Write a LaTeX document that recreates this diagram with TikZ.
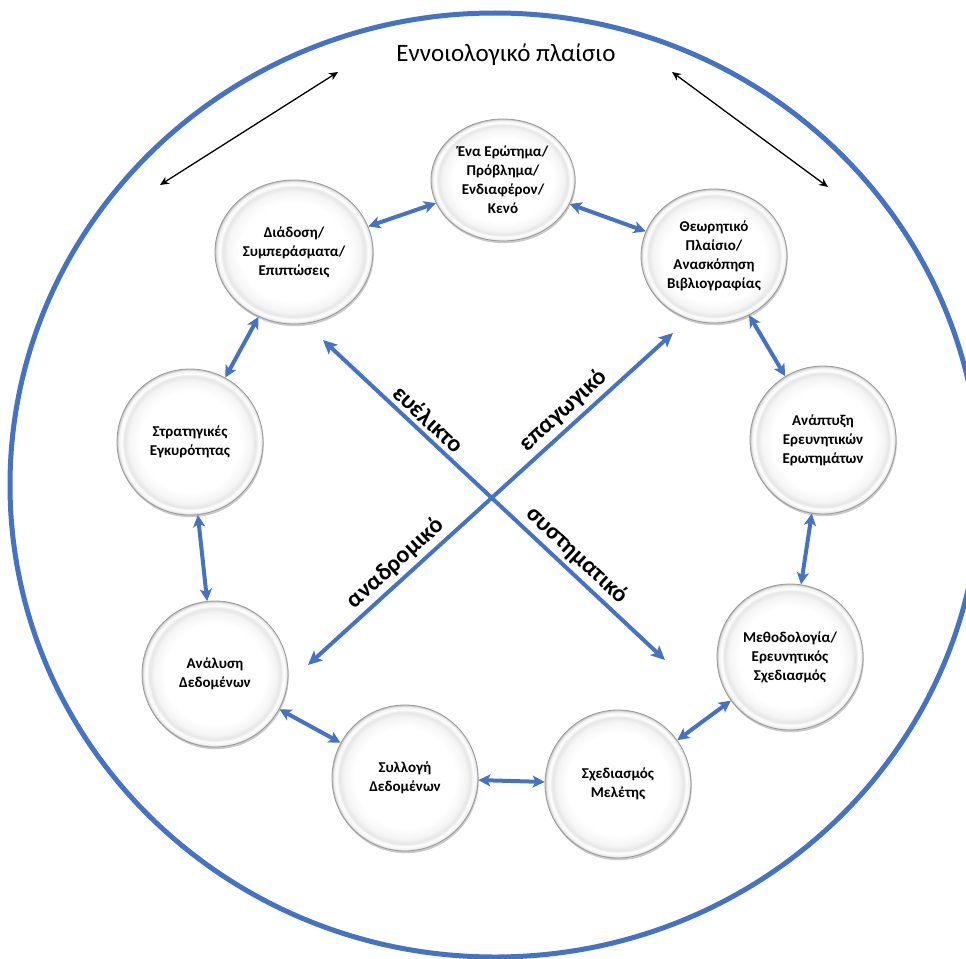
\documentclass[tikz,border=0pt]{standalone}
\usepackage{fontspec}
\setmainfont{Carlito}
\usetikzlibrary{arrows.meta,shapes.geometric,shadows}
\definecolor{cycleblue}{HTML}{4472C4}
\pgfdeclareradialshading{bubbleshade}{\pgfpoint{0bp}{0bp}}{color(0bp)=(white); color(17bp)=(white); color(21bp)=(black!4); color(22.5bp)=(black!10); color(23.5bp)=(white); color(24.4bp)=(black!6); color(25bp)=(black!25); color(50bp)=(black!25)}

\begin{document}
\begin{tikzpicture}[x=1pt, y=-1pt,
    bubble/.style={ellipse, shading=bubbleshade, draw=black!40, line width=0.8pt,
        drop shadow={shadow xshift=0.8pt, shadow yshift=-2.2pt, opacity=0.35, fill=black!60},
        align=center, font=\fontsize{15}{19}\selectfont\bfseries, inner sep=0pt},
    cyclink/.style={{Stealth[length=12pt,width=12pt,inset=3pt]}-{Stealth[length=12pt,width=12pt,inset=3pt]}, cycleblue, line width=4pt},
    crosslink/.style={{Stealth[length=14pt,width=13pt,inset=3pt]}-{Stealth[length=14pt,width=13pt,inset=3pt]}, cycleblue, line width=4pt},
    framelink/.style={{Stealth[length=9pt,width=8pt]}-{Stealth[length=9pt,width=8pt]}, black, line width=1.3pt},
    crosslabel/.style={font=\fontsize{24}{28}\selectfont\bfseries, text=black, sloped, above, inner sep=4pt}]
    \useasboundingbox (0,0) rectangle (966,958);
    \clip (0,0) rectangle (966,958);

    % outer frame
    \draw[cycleblue, line width=5pt] (495,485) ellipse [x radius=485, y radius=472];
    \node[font=\fontsize{25}{30}\selectfont] (frame) at (506,55) {Εννοιολογικό πλαίσιο};

    % research cycle
    \node[bubble, minimum width=144, minimum height=122] (question) at (503,180) {Ένα Ερώτημα/\\Πρόβλημα/\\Ενδιαφέρον/\\Κενό};
    \node[bubble, minimum width=158, minimum height=144] (spread) at (294,252) {Διάδοση/\\Συμπεράσματα/\\Επιπτώσεις};
    \node[bubble, minimum width=146, minimum height=134] (theory) at (714,256) {Θεωρητικό\\Πλαίσιο/\\Ανασκόπηση\\Βιβλιογραφίας};
    \node[bubble, minimum width=146, minimum height=146] (validity) at (190,442) {Στρατηγικές\\Εγκυρότητας};
    \node[bubble, minimum width=146, minimum height=148] (rquest) at (823,440) {Ανάπτυξη\\Ερευνητικών\\Ερωτημάτων};
    \node[bubble, minimum width=146, minimum height=146] (analysis) at (215,674) {Ανάλυση\\Δεδομένων};
    \node[bubble, minimum width=146, minimum height=146] (method) at (790,657) {Μεθοδολογία/\\Ερευνητικός\\Σχεδιασμός};
    \node[bubble, minimum width=146, minimum height=146] (collect) at (405,778) {Συλλογή\\Δεδομένων};
    \node[bubble, minimum width=146, minimum height=148] (design) at (618,784) {Σχεδιασμός\\Μελέτης};

    \draw[cyclink] (spread) -- (question);
    \draw[cyclink] (question) -- (theory);
    \draw[cyclink] (theory) -- (rquest);
    \draw[cyclink] (rquest) -- (method);
    \draw[cyclink] (method) -- (design);
    \draw[cyclink] (design) -- (collect);
    \draw[cyclink] (collect) -- (analysis);
    \draw[cyclink] (analysis) -- (validity);
    \draw[cyclink] (validity) -- (spread);

    % the two crossing axes
    \coordinate (nw) at (323,340);
    \coordinate (se) at (665,660);
    \coordinate (sw) at (308,665);
    \coordinate (ne) at (673,333);
    \draw[crosslink] (nw) -- (se)
        node[crosslabel, pos=0.28] {ευέλικτο}
        node[crosslabel, pos=0.71] {συστηματικό};
    \draw[crosslink] (sw) -- (ne)
        node[crosslabel, pos=0.27] {αναδρομικό}
        node[crosslabel, pos=0.73] {επαγωγικό};

    % links to the framework
    \coordinate (fl) at (160,185);
    \coordinate (flt) at (338,72);
    \coordinate (frt) at (672,72);
    \coordinate (fr) at (828,187);
    \draw[framelink] (fl) -- (flt);
    \draw[framelink] (frt) -- (fr);
\end{tikzpicture}
\end{document}
